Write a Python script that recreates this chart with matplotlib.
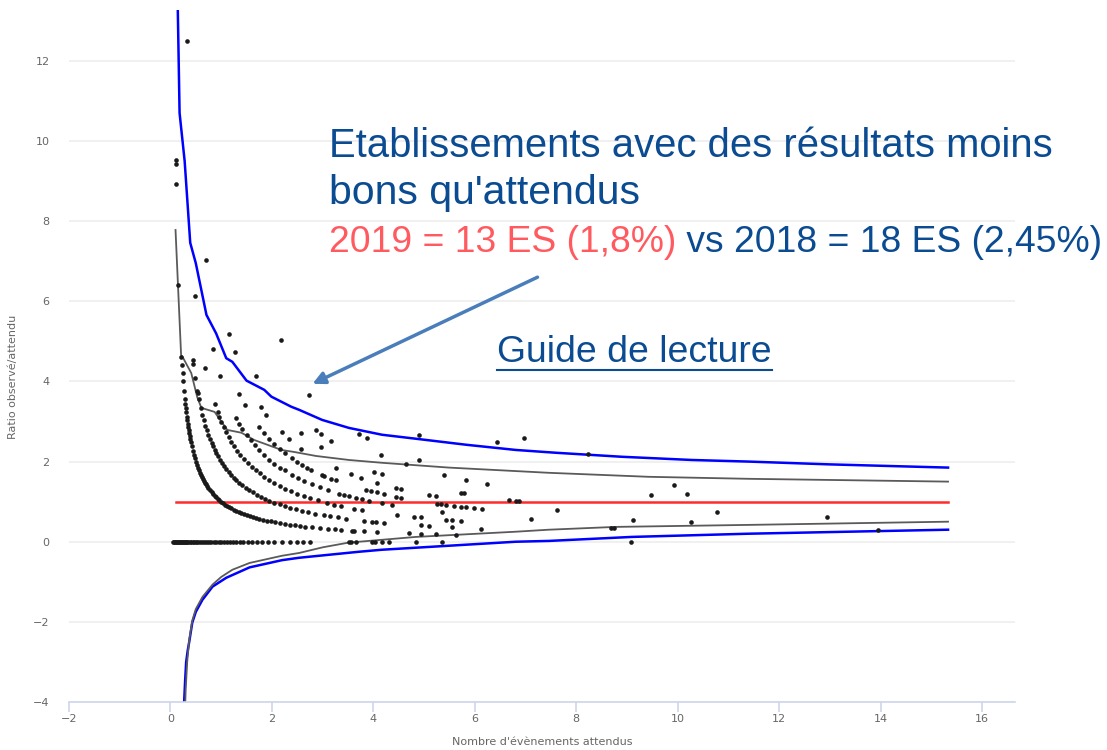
import matplotlib
matplotlib.use("Agg")
import matplotlib.pyplot as plt
from matplotlib.lines import Line2D
import numpy as np

# expected events (x) grouped by observed count, ratio = observed / expected
att_0 = [0.05, 0.07, 0.09, 0.11, 0.13, 0.15, 0.17, 0.19, 0.21, 0.23, 0.25, 0.27, 0.29, 0.31,
         0.33, 0.35, 0.38, 0.41, 0.44, 0.47, 0.50, 0.53, 0.56, 0.60, 0.64, 0.68, 0.72, 0.76,
         0.80, 0.85, 0.90, 0.95, 1.00, 1.06, 1.12, 1.18, 1.24, 1.30, 1.37, 1.44, 1.52, 1.60,
         1.70, 1.80, 1.92, 2.05, 2.20, 2.35, 2.50, 2.62, 2.75, 3.52, 3.56, 3.66, 3.98, 4.04,
         4.17, 4.31, 4.84, 5.35, 9.07]
att_1 = [0.105, 0.106, 0.112, 0.156, 0.217, 0.227, 0.238, 0.25, 0.265, 0.28, 0.29, 0.30, 0.31,
         0.32, 0.33, 0.34, 0.35, 0.36, 0.37, 0.38, 0.39, 0.40, 0.42, 0.44, 0.46, 0.48, 0.50,
         0.52, 0.54, 0.56, 0.58, 0.60, 0.62, 0.64, 0.66, 0.68, 0.70, 0.72, 0.75, 0.78, 0.81,
         0.84, 0.87, 0.90, 0.93, 0.96, 1.00, 1.04, 1.08, 1.12, 1.16, 1.20, 1.25, 1.30, 1.35,
         1.40, 1.45, 1.50, 1.56, 1.62, 1.68, 1.75, 1.82, 1.90, 1.98, 2.06, 2.15, 2.25, 2.35,
         2.45, 2.55, 2.65, 2.80, 2.95, 3.10, 3.25, 3.37, 3.58, 3.62, 3.82, 4.07, 4.70, 4.94,
         5.24, 5.63]
att_2 = [0.44, 0.45, 0.49, 0.53, 0.54, 0.56, 0.60, 0.63, 0.66, 0.69, 0.72, 0.75, 0.78, 0.81,
         0.84, 0.87, 0.90, 0.94, 0.98, 1.02, 1.06, 1.10, 1.15, 1.20, 1.25, 1.30, 1.36, 1.42,
         1.48, 1.55, 1.62, 1.70, 1.78, 1.86, 1.95, 2.05, 2.15, 2.25, 2.36, 2.48, 2.60, 2.72,
         2.85, 3.03, 3.15, 3.30, 3.46, 3.82, 3.98, 4.06, 4.21, 4.94, 5.10, 5.55, 6.12]
att_3 = [0.49, 0.69, 0.87, 0.93, 0.96, 1.00, 1.05, 1.10, 1.15, 1.20, 1.26, 1.32, 1.38, 1.45,
         1.52, 1.60, 1.68, 1.76, 1.85, 1.95, 2.05, 2.15, 2.26, 2.38, 2.50, 2.64, 2.75, 2.90,
         3.09, 3.23, 3.37, 3.62, 3.78, 4.47, 4.80, 4.94, 5.43, 5.55, 5.73, 8.68, 8.74]
att_4 = [0.32, 0.83, 0.97, 1.30, 1.36, 1.42, 1.50, 1.58, 1.66, 1.75, 1.85, 1.95, 2.05, 2.16,
         2.25, 2.40, 2.52, 2.64, 2.80, 2.95, 3.10, 3.33, 3.43, 3.52, 3.66, 3.78, 3.92, 4.17,
         4.37, 5.35, 7.10, 13.94]
att_5 = [0.71, 1.36, 1.47, 1.75, 1.85, 1.95, 2.05, 2.15, 2.25, 2.40, 2.50, 2.60, 2.70, 2.78,
         2.99, 3.03, 3.17, 3.27, 3.86, 3.96, 4.07, 4.21, 4.45, 4.55, 5.26, 5.33, 5.43, 5.59,
         5.73, 5.83, 5.98, 6.14, 9.11, 10.26]
att_6 = [1.16, 1.27, 1.79, 1.89, 2.20, 2.34, 2.58, 3.27, 3.56, 3.76, 4.07, 4.45, 4.55, 5.10,
         5.24, 7.62]
# remaining establishments: expected and observed side by side
autres_att = [1.69, 2.58, 2.97, 4.02, 4.17, 5.73, 5.79, 6.67, 6.81, 6.87,
              2.87, 2.97, 3.17, 10.77, 12.95,
              4.15, 4.65, 5.39, 5.83, 6.24,
              2.74, 3.72, 3.88, 4.90,
              2.18, 9.47, 10.18, 4.90, 9.92, 6.44, 6.97, 8.23]
autres_obs = [7, 7, 7, 7, 7, 7, 7, 7, 7, 7,
              8, 8, 8, 8, 8,
              9, 9, 9, 9, 9,
              10, 10, 10, 10,
              11, 11, 12, 13, 14, 16, 18, 18]

# funnel limits
sup95_x = [0.135, 0.18, 0.28, 0.39, 0.5, 0.71, 0.9, 1.1, 1.22, 1.5, 1.85, 1.99, 2.38, 2.54,
           2.99, 3.52, 4.17, 4.84, 5.83, 6.81, 7.6, 8.9, 10.28, 11.4, 13.0, 15.33]
sup95_y = [14.0, 10.7, 9.5, 7.46, 6.95, 5.66, 5.2, 4.58, 4.49, 4.02, 3.79, 3.62, 3.37, 3.29,
           3.04, 2.84, 2.67, 2.57, 2.42, 2.29, 2.22, 2.12, 2.04, 2.0, 1.93, 1.85]
sup90_x = [0.1, 0.21, 0.24, 0.41, 0.53, 0.61, 0.87, 1.12, 1.4, 1.65, 2.19, 2.44, 2.87, 3.52,
           4.17, 5.49, 7.46, 9.43, 11.4, 15.33]
sup90_y = [7.78, 4.66, 4.61, 4.21, 3.6, 3.34, 3.24, 2.79, 2.72, 2.54, 2.29, 2.24, 2.14, 2.04,
           1.97, 1.85, 1.72, 1.62, 1.57, 1.5]
inf90_x = [0.285, 0.3, 0.33, 0.37, 0.43, 0.5, 0.63, 0.83, 1.0, 1.22, 1.56, 2.2, 2.54, 3.0,
           3.52, 3.72, 4.84, 6.81, 7.46, 8.78, 11.4, 15.33]
inf90_y = [-4.3, -3.7, -3.0, -2.45, -1.97, -1.68, -1.38, -1.07, -0.88, -0.7, -0.53, -0.35,
           -0.28, -0.14, -0.02, 0.0, 0.12, 0.25, 0.3, 0.37, 0.42, 0.5]
inf95_x = [0.262, 0.27, 0.29, 0.31, 0.34, 0.37, 0.43, 0.5, 0.63, 0.83, 1.1, 1.56, 2.2, 2.54,
           3.72, 4.17, 6.81, 7.46, 9.1, 11.4, 15.33]
inf95_y = [-4.6, -4.0, -3.45, -3.0, -2.72, -2.5, -2.02, -1.75, -1.45, -1.12, -0.9, -0.64,
           -0.46, -0.4, -0.25, -0.2, 0.0, 0.02, 0.12, 0.2, 0.3]
ref_x = [0.1, 15.33]
ref_y = [1, 1]

W, H = 1107, 750
fig = plt.figure(figsize=(W / 100, H / 100), dpi=100)
ax = fig.add_axes([69 / W, 1 - 702 / H, (1015 - 69) / W, (702 - 10) / H])

ax.plot(sup95_x, sup95_y, color="#0000ff", lw=1.8, zorder=2)
ax.plot(inf95_x, inf95_y, color="#0000ff", lw=1.8, zorder=2)
ax.plot(sup90_x, sup90_y, color="#5a5a5a", lw=1.3, zorder=2)
ax.plot(inf90_x, inf90_y, color="#5a5a5a", lw=1.3, zorder=2)
ax.plot(ref_x, ref_y, color="#ff2a2a", lw=1.8, zorder=2)

groups = [att_0, att_1, att_2, att_3, att_4, att_5, att_6]
for n, att in enumerate(groups):
    x = np.array(att)
    ax.scatter(x, n / x, s=11, color="#1a1a1a", linewidths=0, zorder=3)
x = np.array(autres_att)
ax.scatter(x, np.array(autres_obs) / x, s=11, color="#1a1a1a", linewidths=0, zorder=3)

ax.set_xlim(-2, 16.65)
ax.set_ylim(-4, 13.27)
ax.set_xticks(range(-2, 17, 2))
ax.set_yticks(range(-4, 13, 2))
for s in ["top", "right", "left"]:
    ax.spines[s].set_visible(False)
ax.spines["bottom"].set_color("#ccd6eb")
ax.spines["bottom"].set_linewidth(1.2)
ax.yaxis.grid(True, color="#ededed", lw=1.2, zorder=0)
ax.set_axisbelow(True)
ax.tick_params(axis="y", length=0, pad=14, labelsize=8, labelcolor="#666666")
ax.tick_params(axis="x", length=7, width=1.2, color="#ccd6eb", pad=2, labelsize=8,
               labelcolor="#666666")
ax.set_xlabel("Nombre d'évènements attendus", fontsize=8, color="#666666")
ax.xaxis.set_label_coords(0.5, -0.05)
ax.set_ylabel("Ratio observé/attendu", fontsize=8, color="#666666")
ax.yaxis.set_label_coords(-0.054, 0.47)

# annotation block
navy = "#0a4b91"
salmon = "#ff5a5f"
fam = "Liberation Sans"
fig.text(329 / W, 1 - 157 / H, "Etablissements avec des résultats moins", fontsize=28.8,
         family=fam, color=navy, va="baseline")
fig.text(329 / W, 1 - 204 / H, "bons qu'attendus", fontsize=29.5, family=fam, color=navy,
         va="baseline")
t_red = fig.text(329 / W, 1 - 252 / H, "2019 = 13 ES (1,8%)", fontsize=26.8, family=fam,
                 color=salmon, va="baseline")
fig.canvas.draw()
r = fig.canvas.get_renderer()
bb = t_red.get_window_extent(r)
fig.text(bb.x1 / W, 1 - 252 / H, " vs 2018 = 18 ES (2,45%)", fontsize=26.8, family=fam,
         color=navy, va="baseline")
t_guide = fig.text(497 / W, 1 - 362 / H, "Guide de lecture", fontsize=26.9, family=fam,
                   color=navy, va="baseline")
gb = t_guide.get_window_extent(r)
fig.add_artist(Line2D([gb.x0 / W, gb.x1 / W], [1 - 370 / H, 1 - 370 / H], color=navy,
                      lw=1.5, transform=fig.transFigure))

ax.annotate("", xy=(310, H - 385), xytext=(540, H - 276), xycoords="figure pixels",
            textcoords="figure pixels",
            arrowprops=dict(arrowstyle="-|>", color="#4a7ebb", lw=2.5, mutation_scale=18))

fig.savefig("out.png", dpi=100)
